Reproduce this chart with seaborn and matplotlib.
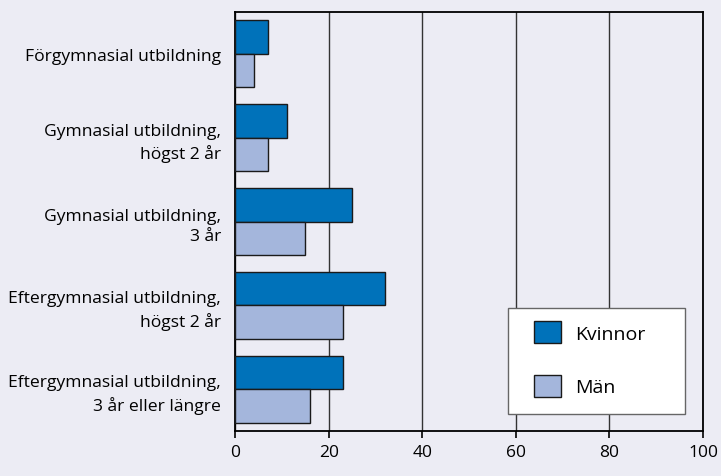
import matplotlib
matplotlib.use("Agg")
import matplotlib.pyplot as plt
import matplotlib.patches as mpatches
import pandas as pd
import seaborn as sns

# Data
categories = ["Förgymnasial utbildning",
              "Gymnasial utbildning,\nhögst 2 år",
              "Gymnasial utbildning,\n3 år",
              "Eftergymnasial utbildning,\nhögst 2 år",
              "Eftergymnasial utbildning,\n3 år eller längre"]
kvinnor = [7, 11, 25, 32, 23]
man = [4, 7, 15, 23, 16]
series = ["Kvinnor", "Män"]
colors = ["#0072BA", "#A4B6DC"]
bg = "#ECECF4"

df = pd.DataFrame({
    "cat": categories * 2,
    "val": kvinnor + man,
    "kon": [series[0]] * len(categories) + [series[1]] * len(categories),
})

sns.set_style("white")
plt.rcParams["font.family"] = ["Open Sans", "DejaVu Sans"]
plt.rcParams["text.color"] = "black"
plt.rcParams["xtick.color"] = "black"
plt.rcParams["ytick.color"] = "black"

fig = plt.figure(figsize=(7.21, 4.77), dpi=100, facecolor=bg)
ax = fig.add_axes([0.326, 0.0943, 0.649, 0.8784])
ax.set_facecolor(bg)

sns.barplot(data=df, y="cat", x="val", hue="kon", orient="h",
            palette=colors, saturation=1, edgecolor="#1a1a1a", linewidth=1.0,
            width=0.8, ax=ax, legend=False, zorder=3)

ax.set_xlim(0, 100)
ax.set_ylim(4.5, -0.5)
ax.set_xticks([0, 20, 40, 60, 80, 100])
ax.grid(axis="x", color="#333333", linewidth=1.0)
ax.grid(axis="y", visible=False)
ax.set_axisbelow(True)
ax.set_xlabel("")
ax.set_ylabel("")

for s in ax.spines.values():
    s.set_visible(True)
    s.set_color("black")
    s.set_linewidth(1.3)

ax.tick_params(axis="x", bottom=True, length=5, width=1.2, color="black",
               labelsize=12.5, labelcolor="black", pad=4)
ax.tick_params(axis="y", left=False, labelsize=12.6, labelcolor="black", pad=6.5)
for lbl in ax.get_yticklabels():
    lbl.set_horizontalalignment("right")
    lbl.set_multialignment("right")
    lbl.set_linespacing(1.4)

# legend box
frame = mpatches.Rectangle((0.583, 0.0406), 0.379, 0.253, transform=ax.transAxes,
                           facecolor="white", edgecolor="#666666", linewidth=1.0,
                           zorder=4.5)
ax.add_patch(frame)
handles = [mpatches.Patch(facecolor=c, edgecolor="#1a1a1a", label=s)
           for c, s in zip(colors, series)]
leg = ax.legend(handles=handles, loc="upper left",
                bbox_to_anchor=(0.639, 0.2625), frameon=False,
                fontsize=14, handlelength=1.4, handleheight=1.4,
                labelspacing=1.6, borderpad=0, handletextpad=0.7,
                borderaxespad=0)
leg.set_zorder(5)

fig.savefig("out.png", dpi=100, facecolor=bg)
